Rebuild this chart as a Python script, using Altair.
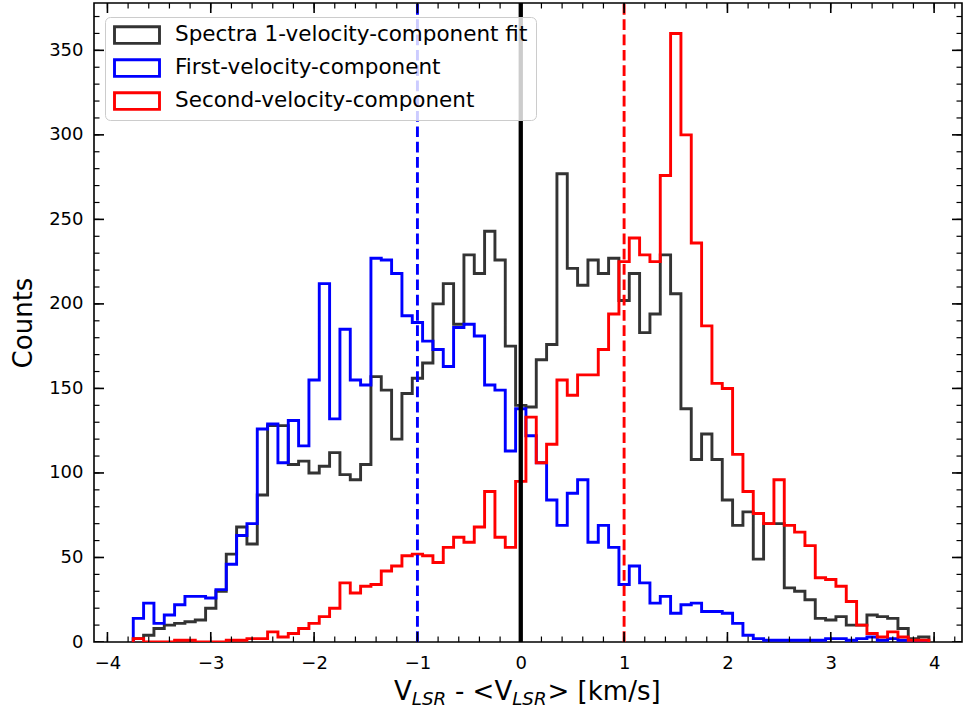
import altair as alt
import pandas as pd

# ---------------- data ----------------
series_names = ["Spectra 1-velocity-component fit", "First-velocity-component", "Second-velocity-component"]
series_colors = ["#333333", "#0000ff", "#ff0000"]

bin_start = -3.75
bin_width = 0.1

counts_fit = [2, 4, 8, 10, 11, 12, 13, 20, 30, 52, 68, 58, 87, 128, 128, 105, 107, 100, 104, 112,
              99, 96, 105, 157, 149, 120, 147, 156, 165, 200, 212, 188, 229, 218, 243, 226, 175, 140, 139, 167,
              176, 277, 221, 211, 226, 218, 227, 202, 218, 183, 194, 229, 206, 138, 108, 123, 108, 84, 69, 77,
              49, 70, 70, 32, 30, 25, 14, 13, 15, 10, 10, 16, 15, 14, 8, 2, 3]
counts_first = [14, 23, 11, 16, 22, 27, 27, 26, 31, 46, 63, 70, 126, 129, 106, 131, 116, 155, 212, 132,
                185, 155, 152, 227, 226, 218, 193, 189, 178, 173, 163, 186, 188, 181, 152, 149, 113, 138, 122, 106,
                84, 69, 88, 96, 59, 69, 56, 34, 45, 35, 23, 27, 17, 22, 23, 18, 18, 17, 11, 4,
                2, 1, 1, 1, 1, 1, 1, 2, 2, 1, 2, 3, 1, 2, 1, 0, 0]
counts_second = [2, 0, 0, 0, 1, 1, 0, 0, 0, 1, 1, 2, 2, 6, 3, 5, 8, 11, 15, 20,
                 35, 29, 33, 34, 42, 45, 51, 52, 51, 47, 56, 62, 59, 68, 89, 62, 56, 95, 133, 106,
                 117, 155, 146, 158, 158, 173, 194, 225, 239, 229, 225, 276, 360, 300, 236, 187, 153, 150, 111, 89,
                 76, 70, 96, 69, 65, 57, 38, 37, 33, 24, 10, 5, 3, 6, 3, 1, 1]

zero_line = [0.0]
mean_first = [-1.0]
mean_second = [1.0]

x_major = [-4, -3, -2, -1, 0, 1, 2, 3, 4]
x_minor = [round(-4.0 + 0.2 * i, 1) for i in range(42)]
y_major = [0, 50, 100, 150, 200, 250, 300, 350]
y_minor = list(range(0, 371, 10))

x_domain = [-4.13, 4.27]
y_domain = [0, 378]

W, H = 868, 639


def step_table(name, counts):
    n = len(counts)
    edges = [round(bin_start + bin_width * i, 4) for i in range(n + 1)]
    rows = [{"v": edges[0], "c": 0, "idx": 0}]
    for i, c in enumerate(counts):
        rows.append({"v": edges[i], "c": c, "idx": i + 1})
    rows.append({"v": edges[n], "c": counts[-1], "idx": n + 1})
    rows.append({"v": edges[n], "c": 0, "idx": n + 2})
    df = pd.DataFrame(rows)
    df["series"] = name
    return df


xscale = alt.Scale(domain=x_domain, nice=False, zero=False)
yscale = alt.Scale(domain=y_domain, nice=False, zero=False)
cscale = alt.Scale(domain=series_names, range=series_colors)

xaxis = alt.Axis(values=x_major, format="d", ticks=False, tickSize=0, domain=False, grid=False,
                 labelFontSize=18, labelColor="black", labelPadding=12, title=None)
yaxis = alt.Axis(values=y_major, format="d", ticks=False, tickSize=0, domain=False, grid=False,
                 labelFontSize=18, labelColor="black", labelPadding=11,
                 title="Counts", titleFontSize=26, titleFontWeight="normal", titleColor="black",
                 titlePadding=12)

legend = alt.Legend(title=None, orient="none", legendX=11, legendY=14,
                    symbolType="M-1,-0.37H1V0.37H-1Z", symbolSize=2025, symbolStrokeWidth=2.9,
                    symbolFillColor="transparent", labelFontSize=21.5, labelColor="black",
                    labelOffset=14, labelLimit=600, padding=8, rowPadding=11, clipHeight=20,
                    strokeColor="#cccccc", fillColor="rgba(255,255,255,0.8)", cornerRadius=5)

X = alt.X("v:Q", scale=xscale, axis=xaxis)
Y = alt.Y("c:Q", scale=yscale, axis=yaxis)


def hist_layer(name, counts):
    return alt.Chart(step_table(name, counts)).mark_line(
        interpolate="step-after", strokeWidth=2.9, clip=True
    ).encode(
        x=X, y=Y,
        color=alt.Color("series:N", scale=cscale, legend=legend),
        order=alt.Order("idx:Q"),
    )


def vline(values, color, width, dash=None):
    kw = dict(color=color, strokeWidth=width)
    if dash:
        kw["strokeDash"] = dash
    return alt.Chart(pd.DataFrame({"v": values})).mark_rule(**kw).encode(
        x=X, y=alt.value(H), y2=alt.value(0),
    )


def xticks(values, length, width):
    df = pd.DataFrame({"v": values})
    bottom = alt.Chart(df).mark_rule(color="black", strokeWidth=width, clip=True).encode(
        x=X, y=alt.value(H), y2=alt.value(H - length))
    top = alt.Chart(df).mark_rule(color="black", strokeWidth=width, clip=True).encode(
        x=X, y=alt.value(0), y2=alt.value(length))
    return [bottom, top]


def yticks(values, length, width):
    df = pd.DataFrame({"c": values})
    left = alt.Chart(df).mark_rule(color="black", strokeWidth=width, clip=True).encode(
        y=Y, x=alt.value(0), x2=alt.value(length))
    right = alt.Chart(df).mark_rule(color="black", strokeWidth=width, clip=True).encode(
        y=Y, x=alt.value(W), x2=alt.value(W - length))
    return [left, right]


def label_part(text, x, y, size, italic=False):
    kw = dict(text=text, align="left", baseline="alphabetic", fontSize=size, color="black",
              font="DejaVu Sans")
    if italic:
        kw["fontStyle"] = "italic"
    return alt.Chart(pd.DataFrame({"t": [text]})).mark_text(**kw).encode(
        x=alt.value(x), y=alt.value(y))


# x title: V_LSR - <V_LSR> [km/s]
fs = 26
fsub = 18.2
x0 = W / 2 - 268 / 2
base_y = 697
sub_y = 702
parts = [
    label_part("V", x0, base_y, fs),
    label_part("LSR", x0 + 17.8, sub_y, fsub, italic=True),
    label_part("-", x0 + 61.0, base_y, fs),
    label_part("<V", x0 + 78.6, base_y, fs),
    label_part("LSR", x0 + 118.2, sub_y, fsub, italic=True),
    label_part(">", x0 + 153.5, base_y, fs),
    label_part("[km/s]", x0 + 183.6, base_y, fs),
]

layers = [
    hist_layer(series_names[0], counts_fit),
    hist_layer(series_names[1], counts_first),
    hist_layer(series_names[2], counts_second),
    vline(mean_first, "#0000ff", 2.9, [10.7, 4.6]),
    vline(mean_second, "#ff0000", 2.9, [10.7, 4.6]),
    vline(zero_line, "black", 4.3),
]
layers += xticks(x_major, 10, 1.6) + xticks(x_minor, 5.5, 1.2)
layers += yticks(y_major, 10, 1.6) + yticks(y_minor, 5.5, 1.2)
layers += parts

chart = alt.layer(*layers).properties(
    width=W, height=H,
    autosize=alt.AutoSizeParams(type="none"),
    padding={"left": 94, "top": 3, "right": 3, "bottom": 71},
).configure(
    font="DejaVu Sans",
    background="white",
).configure_view(
    stroke="black", strokeWidth=1.6,
)

chart.save("out.html", embed_options={"renderer": "svg", "actions": False})
